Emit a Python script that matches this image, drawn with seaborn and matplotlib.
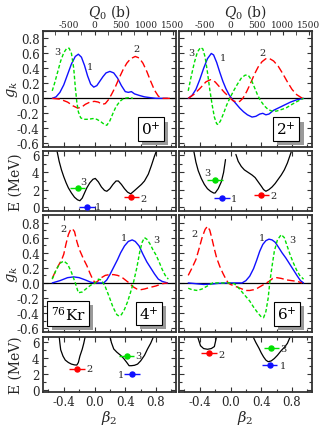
import matplotlib
matplotlib.use('Agg')
import matplotlib.pyplot as plt
import matplotlib.patheffects as pe
import seaborn as sns
from matplotlib.ticker import MultipleLocator, FormatStrFormatter, FixedLocator

# ---------------- collective wave functions g_k (beta2, g) ----------------
# 0+
b0_1 = [-0.55, -0.50, -0.45, -0.40, -0.35, -0.30, -0.25, -0.21, -0.17, -0.13, -0.09, -0.05, -0.01, 0.03, 0.07,
        0.11, 0.15, 0.20, 0.25, 0.30, 0.35, 0.40, 0.44, 0.48, 0.52, 0.58, 0.65, 0.72, 0.80, 0.95]
g0_1 = [0.0, 0.02, 0.08, 0.18, 0.32, 0.46, 0.56, 0.59, 0.55, 0.44, 0.30, 0.19, 0.15, 0.17, 0.23,
        0.29, 0.34, 0.36, 0.34, 0.27, 0.17, 0.09, 0.08, 0.09, 0.06, 0.04, 0.02, 0.01, 0.0, 0.0]
b0_2 = [-0.55, -0.45, -0.35, -0.28, -0.22, -0.17, -0.12, -0.06, 0.0, 0.05, 0.10, 0.14, 0.18, 0.22,
        0.27, 0.32, 0.37, 0.42, 0.47, 0.53, 0.58, 0.63, 0.68, 0.73, 0.78, 0.83, 0.88, 0.98]
g0_2 = [0.0, -0.01, -0.05, -0.10, -0.13, -0.12, -0.08, -0.05, -0.04, -0.05, -0.08, -0.07, -0.02, 0.05,
        0.15, 0.27, 0.38, 0.47, 0.53, 0.56, 0.54, 0.47, 0.36, 0.23, 0.11, 0.03, 0.0, 0.0]
b0_3 = [-0.55, -0.52, -0.48, -0.44, -0.40, -0.36, -0.33, -0.30, -0.27, -0.25, -0.23, -0.21, -0.18, -0.14,
        -0.08, -0.02, 0.03, 0.08, 0.13, 0.16, 0.20, 0.24, 0.28, 0.33, 0.38, 0.45, 0.50]
g0_3 = [0.10, 0.20, 0.35, 0.50, 0.61, 0.67, 0.67, 0.60, 0.40, 0.15, -0.05, -0.18, -0.26, -0.28,
        -0.28, -0.27, -0.28, -0.31, -0.35, -0.36, -0.30, -0.20, -0.11, -0.04, 0.0, 0.01, 0.0]

# 2+
b2_1 = [-0.55, -0.50, -0.45, -0.40, -0.35, -0.30, -0.25, -0.22, -0.18, -0.14, -0.10, -0.06, -0.02, 0.02, 0.07,
        0.12, 0.17, 0.22, 0.28, 0.33, 0.38, 0.42, 0.46, 0.50, 0.56, 0.62, 0.70, 0.78, 0.86, 0.95]
g2_1 = [0.0, 0.04, 0.12, 0.25, 0.40, 0.53, 0.60, 0.58, 0.48, 0.35, 0.23, 0.13, 0.05, -0.01, -0.07,
        -0.13, -0.18, -0.22, -0.25, -0.24, -0.21, -0.20, -0.22, -0.21, -0.16, -0.13, -0.09, -0.05, -0.02, 0.0]
b2_2 = [-0.55, -0.48, -0.40, -0.32, -0.26, -0.20, -0.14, -0.08, -0.02, 0.03, 0.08, 0.12, 0.16, 0.21,
        0.26, 0.31, 0.36, 0.41, 0.46, 0.51, 0.56, 0.62, 0.68, 0.74, 0.80, 0.86, 0.92, 0.96]
g2_2 = [0.0, 0.05, 0.13, 0.22, 0.25, 0.22, 0.15, 0.08, 0.02, -0.03, -0.05, -0.04, 0.0, 0.09,
        0.20, 0.32, 0.42, 0.49, 0.53, 0.53, 0.50, 0.43, 0.33, 0.22, 0.12, 0.05, 0.01, 0.0]
b2_3 = [-0.55, -0.51, -0.47, -0.43, -0.39, -0.36, -0.33, -0.30, -0.27, -0.24, -0.21, -0.18, -0.16, -0.13,
        -0.09, -0.05, -0.01, 0.04, 0.09, 0.14, 0.19, 0.23, 0.27, 0.31, 0.35, 0.39, 0.44, 0.49, 0.54,
        0.60, 0.66, 0.72, 0.80, 0.87, 0.95]
g2_3 = [0.10, 0.30, 0.48, 0.62, 0.68, 0.66, 0.55, 0.35, 0.12, -0.08, -0.25, -0.34, -0.35, -0.30,
        -0.20, -0.09, 0.0, 0.10, 0.19, 0.27, 0.31, 0.31, 0.25, 0.15, 0.05, -0.03, -0.10, -0.15, -0.17,
        -0.17, -0.15, -0.13, -0.08, -0.04, 0.0]

# 4+
b4_1 = [-0.55, -0.45, -0.35, -0.27, -0.20, -0.12, -0.05, 0.0, 0.08, 0.12, 0.16, 0.20, 0.25, 0.30,
        0.34, 0.39, 0.44, 0.49, 0.53, 0.58, 0.63, 0.68, 0.73, 0.78, 0.83, 0.88, 0.95]
g4_1 = [0.0, 0.03, 0.07, 0.08, 0.07, 0.04, 0.01, 0.0, 0.0, 0.0, 0.04, 0.11, 0.21, 0.31,
        0.40, 0.49, 0.55, 0.57, 0.55, 0.49, 0.38, 0.28, 0.20, 0.12, 0.05, 0.02, 0.0]
b4_2 = [-0.55, -0.51, -0.47, -0.43, -0.40, -0.37, -0.34, -0.31, -0.29, -0.26, -0.23, -0.20, -0.17, -0.14,
        -0.10, -0.06, -0.02, 0.01, 0.05, 0.09, 0.14, 0.19, 0.25, 0.30, 0.35, 0.40, 0.45, 0.50, 0.55,
        0.60, 0.65, 0.72, 0.80, 0.88, 0.95]
g4_2 = [0.06, 0.15, 0.23, 0.30, 0.38, 0.52, 0.64, 0.71, 0.72, 0.68, 0.55, 0.45, 0.38, 0.31,
        0.23, 0.13, 0.04, 0.0, 0.03, 0.07, 0.10, 0.11, 0.11, 0.10, 0.08, 0.04, 0.0, -0.05, -0.08,
        -0.09, -0.08, -0.06, -0.04, -0.01, 0.0]
b4_3 = [-0.55, -0.50, -0.45, -0.40, -0.35, -0.30, -0.25, -0.21, -0.16, -0.10, -0.05, 0.01, 0.05, 0.09,
        0.14, 0.19, 0.24, 0.29, 0.32, 0.35, 0.39, 0.43, 0.47, 0.51, 0.55, 0.59, 0.62, 0.65, 0.68,
        0.72, 0.76, 0.80, 0.84, 0.88, 0.92, 0.96]
g4_3 = [0.05, 0.17, 0.26, 0.29, 0.25, 0.14, 0.0, -0.13, -0.12, -0.07, -0.03, 0.0, 0.05, 0.04,
        -0.05, -0.18, -0.32, -0.42, -0.44, -0.42, -0.35, -0.25, -0.12, 0.02, 0.20, 0.42, 0.54, 0.60, 0.58,
        0.52, 0.44, 0.37, 0.28, 0.18, 0.10, 0.05]

# 6+
b6_1 = [-0.55, -0.45, -0.35, -0.25, -0.15, 0.0, 0.15, 0.20, 0.25, 0.30, 0.34, 0.38, 0.42, 0.46,
        0.50, 0.54, 0.58, 0.62, 0.67, 0.72, 0.77, 0.82, 0.87, 0.91, 0.95]
g6_1 = [0.0, -0.01, -0.02, -0.015, -0.005, 0.0, 0.0, 0.03, 0.09, 0.19, 0.30, 0.42, 0.51, 0.56,
        0.58, 0.57, 0.54, 0.48, 0.40, 0.33, 0.25, 0.17, 0.09, 0.03, 0.0]
b6_2 = [-0.55, -0.50, -0.45, -0.41, -0.37, -0.33, -0.30, -0.27, -0.24, -0.21, -0.18, -0.14, -0.10, -0.06,
        -0.03, 0.0, 0.05, 0.10, 0.15, 0.20, 0.25, 0.30, 0.35, 0.40, 0.45, 0.50, 0.55, 0.60, 0.66,
        0.73, 0.80, 0.87, 0.93]
g6_2 = [0.10, 0.20, 0.31, 0.45, 0.60, 0.71, 0.75, 0.70, 0.58, 0.45, 0.33, 0.22, 0.13, 0.05,
        0.0, -0.02, -0.04, -0.06, -0.08, -0.10, -0.10, -0.09, -0.07, -0.04, -0.01, 0.02, 0.06, 0.07, 0.06,
        0.04, 0.03, 0.02, 0.0]
b6_3 = [-0.55, -0.50, -0.43, -0.37, -0.30, -0.23, -0.10, 0.0, 0.05, 0.10, 0.15, 0.20, 0.25, 0.30,
        0.35, 0.40, 0.43, 0.46, 0.49, 0.51, 0.54, 0.57, 0.61, 0.66, 0.70, 0.74, 0.78, 0.82, 0.86,
        0.90, 0.95]
g6_3 = [-0.07, -0.09, -0.10, -0.08, -0.04, 0.0, 0.0, 0.0, -0.01, -0.06, -0.12, -0.18, -0.24, -0.32,
        -0.39, -0.45, -0.46, -0.38, -0.20, 0.0, 0.22, 0.42, 0.57, 0.64, 0.60, 0.48, 0.36, 0.26, 0.17,
        0.10, 0.05]

# ---------------- potential energy curves E(beta2) ----------------
be_02 = [-0.49, -0.46, -0.43, -0.40, -0.37, -0.34, -0.30, -0.26, -0.22, -0.19, -0.16, -0.13, -0.10, -0.06,
         -0.02, 0.01, 0.05, 0.09, 0.13, 0.16, 0.20, 0.24, 0.28, 0.31, 0.35, 0.39, 0.43, 0.47, 0.51,
         0.56, 0.61, 0.65, 0.70, 0.74, 0.78, 0.81]
ee_02 = [6.6, 5.3, 4.3, 3.5, 2.8, 2.2, 1.6, 1.1, 0.8, 0.7, 1.0, 1.6, 2.2, 2.8,
         3.2, 3.3, 2.9, 2.3, 1.9, 1.8, 2.1, 2.6, 3.0, 3.0, 2.6, 2.1, 1.7, 1.5, 1.8,
         2.2, 2.6, 3.0, 3.8, 4.8, 5.9, 6.6]
be_2a = [-0.48, -0.45, -0.42, -0.38, -0.34, -0.30, -0.26, -0.22, -0.20, -0.16, -0.12, -0.09, -0.065]
ee_2a = [6.6, 5.2, 4.2, 3.3, 2.6, 2.1, 1.8, 1.6, 1.6, 2.1, 2.9, 4.0, 5.5]
be_2b = [0.07, 0.10, 0.14, 0.18, 0.23, 0.28, 0.32, 0.36, 0.40, 0.43, 0.46, 0.50, 0.54, 0.58, 0.62,
         0.66, 0.70, 0.74, 0.79]
ee_2b = [6.1, 5.3, 4.7, 4.3, 4.0, 3.7, 3.4, 2.9, 2.4, 2.0, 1.8, 2.0, 2.3, 2.7, 3.2,
         3.7, 4.3, 5.1, 6.4]
be_4a = [-0.46, -0.45, -0.44, -0.41, -0.38, -0.34, -0.30, -0.26, -0.23, -0.21, -0.19, -0.16, -0.14, -0.12]
ee_4a = [6.7, 5.8, 5.0, 4.2, 3.7, 3.4, 3.2, 3.1, 3.08, 3.4, 4.2, 5.06, 5.8, 6.7]
be_4b = [0.20, 0.22, 0.25, 0.29, 0.34, 0.38, 0.42, 0.45, 0.48, 0.52, 0.56, 0.60, 0.65, 0.69, 0.73, 0.77]
ee_4b = [6.7, 5.9, 5.1, 4.7, 4.3, 3.9, 3.4, 3.0, 3.0, 3.05, 3.2, 3.6, 4.3, 5.1, 5.8, 6.7]
be_6a = [-0.43, -0.39, -0.35, -0.30, -0.25, -0.21, -0.18]
ee_6a = [6.7, 5.5, 5.15, 5.06, 5.15, 5.4, 6.7]
be_6b = [0.29, 0.33, 0.37, 0.40, 0.43, 0.46, 0.49, 0.53, 0.57, 0.61, 0.66, 0.70, 0.74, 0.78]
ee_6b = [6.7, 5.9, 5.2, 4.6, 4.1, 3.7, 3.5, 3.6, 3.9, 4.3, 4.9, 5.3, 5.8, 6.7]

# states 1, 2, 3: mean deformation and energy
pts_0_b = [-0.10, 0.48, -0.22]
pts_0_e = [0.0, 1.1, 2.2]
pts_2_b = [-0.11, 0.40, -0.20]
pts_2_e = [1.07, 1.4, 3.1]
pts_4_b = [0.49, -0.23, 0.42]
pts_4_e = [2.0, 2.6, 4.27]
pts_6_b = [0.51, -0.28, 0.53]
pts_6_e = [3.1, 4.55, 5.2]
bar_half = 0.1

q_major = [-500, 0, 500, 1000, 1500]
q_minor = [-750, -250, 250, 750, 1250]

state_names = ['1', '2', '3']
colors = ['#1010ff', '#ff0000', '#00e000']
styles = ['-', (0, (5.5, 2.5)), (0, (2.6, 1.6))]

sns.set_style('ticks')
plt.rcParams['font.family'] = ['DejaVu Serif']
plt.rcParams['mathtext.fontset'] = 'dejavuserif'
plt.rcParams['axes.unicode_minus'] = False

fig = plt.figure(figsize=(3.24, 4.31), dpi=100)
W, H = 324.0, 431.0
lefts = [43, 179]
width = 133
rows = [(148, 116), (212, 60), (333, 117), (393, 55)]
axs = [[fig.add_axes([l / W, 1 - b / H, width / W, h / H]) for l in lefts] for (b, h) in rows]

to_q = lambda b: b * 1470.0
to_b = lambda q: q / 1470.0


def frame(ax, kind, r, c):
    ax.set_xlim(-0.67, 1.06)
    ax.xaxis.set_major_locator(MultipleLocator(0.4))
    ax.xaxis.set_minor_locator(MultipleLocator(0.2))
    ax.xaxis.set_major_formatter(FormatStrFormatter('%.1f'))
    if kind == 'g':
        ax.set_ylim(-0.65, 0.9)
        ax.yaxis.set_major_locator(MultipleLocator(0.2))
        ax.yaxis.set_minor_locator(MultipleLocator(0.1))
        ax.yaxis.set_major_formatter(FormatStrFormatter('%.1f'))
        ax.axhline(0, color='black', lw=0.9, zorder=1)
    else:
        ax.set_ylim((-0.5, 6.5) if r == 1 else (-0.3, 6.6))
        ax.yaxis.set_major_locator(MultipleLocator(2))
        ax.yaxis.set_minor_locator(MultipleLocator(1))
    ax.tick_params(which='both', direction='in', left=True, right=True, bottom=True, top=(r != 0),
                   labelsize=8.5, color='#333', pad=2.5)
    ax.tick_params(which='major', length=3.5, width=0.8)
    ax.tick_params(which='minor', length=2.2, width=0.8)
    ax.tick_params(axis='y', labelleft=(c == 0))
    ax.tick_params(axis='x', labelbottom=(r == 3))
    for s in ax.spines.values():
        s.set_linewidth(1.3)
        s.set_color('#333')
    ax.set_xlabel('')
    ax.set_ylabel('')
    if r == 0:
        sec = ax.secondary_xaxis('top', functions=(to_q, to_b))
        sec.xaxis.set_major_locator(FixedLocator(q_major))
        sec.xaxis.set_minor_locator(FixedLocator(q_minor))
        sec.tick_params(which='both', direction='in', labelsize=6.5, pad=1.5, color='#333')
        sec.tick_params(which='major', length=3.0)
        sec.tick_params(which='minor', length=3.0)
        sec.set_xlabel('$Q_0$ (b)', fontsize=10, labelpad=3)
    if r == 3:
        ax.set_xlabel(r'$\beta_2$', fontsize=10.5, labelpad=0)


shadow = [pe.SimplePatchShadow(offset=(3, -3), shadow_rgbFace='#9a9a9a', alpha=1.0), pe.Normal()]


def boxed(ax, x, y, s, fs=11):
    ax.text(x, y, s, transform=ax.transAxes, ha='center', va='center', fontsize=fs, color='black',
            bbox=dict(boxstyle='square,pad=0.22', fc='white', ec='black', lw=0.8, path_effects=shadow),
            zorder=7)


def wave(ax, curves):
    for (b, g), col, ls in zip(curves, colors, styles):
        sns.lineplot(x=b, y=g, ax=ax, color=col, linestyle=ls, linewidth=1.0,
                     sort=False, estimator=None, zorder=3)


def energy(ax, pieces, pb, pe_, offsets):
    for b, e in pieces:
        sns.lineplot(x=b, y=e, ax=ax, color='black', linewidth=0.9, sort=False, estimator=None, zorder=2)
    for bb, ee, col, name, (dx, dy) in zip(pb, pe_, colors, state_names, offsets):
        ax.errorbar([bb], [ee], xerr=bar_half, fmt='o', color=col, ms=3.6, elinewidth=1.0,
                    capsize=0, zorder=4)
        ax.text(bb + dx, ee + dy, name, fontsize=7, ha='center', va='center', zorder=5)


def numbers(ax, spots):
    for name, (x, y) in zip(state_names, spots):
        ax.text(x, y, name, fontsize=7, ha='center', va='center')


# row 1
wave(axs[0][0], [(b0_1, g0_1), (b0_2, g0_2), (b0_3, g0_3)])
numbers(axs[0][0], [(-0.06, 0.42), (0.54, 0.66), (-0.48, 0.62)])
wave(axs[0][1], [(b2_1, g2_1), (b2_2, g2_2), (b2_3, g2_3)])
numbers(axs[0][1], [(-0.10, 0.55), (0.41, 0.61), (-0.51, 0.61)])
# row 2
energy(axs[1][0], [(be_02, ee_02)], pts_0_b, pts_0_e, [(0.15, 0.0), (0.16, -0.1), (0.08, 0.7)])
energy(axs[1][1], [(be_2a, ee_2a), (be_2b, ee_2b)], pts_2_b, pts_2_e, [(0.16, -0.1), (0.16, -0.1), (-0.10, 0.85)])
# row 3
wave(axs[2][0], [(b4_1, g4_1), (b4_2, g4_2), (b4_3, g4_3)])
numbers(axs[2][0], [(0.38, 0.60), (-0.40, 0.72), (0.80, 0.57)])
wave(axs[2][1], [(b6_1, g6_1), (b6_2, g6_2), (b6_3, g6_3)])
numbers(axs[2][1], [(0.41, 0.60), (-0.47, 0.66), (0.80, 0.57)])
# row 4
energy(axs[3][0], [(be_4a, ee_4a), (be_4b, ee_4b)], pts_4_b, pts_4_e, [(-0.15, -0.1), (0.16, 0.0), (0.15, 0.0)])
energy(axs[3][1], [(be_6a, ee_6a), (be_6b, ee_6b)], pts_6_b, pts_6_e, [(0.17, -0.1), (0.16, -0.1), (0.16, 0.0)])

kinds = ['g', 'E', 'g', 'E']
for r in range(4):
    for c in range(2):
        frame(axs[r][c], kinds[r], r, c)

boxed(axs[0][0], 0.81, 0.155, r'$0^{+}$')
boxed(axs[0][1], 0.806, 0.155, r'$2^{+}$')
boxed(axs[2][0], 0.795, 0.16, r'$4^{+}$')
boxed(axs[2][1], 0.813, 0.155, r'$6^{+}$')
boxed(axs[2][0], 0.19, 0.16, r'$^{76}$Kr')

fig.text(12 / W, 1 - 90 / H, '$g_k$', rotation=90, fontsize=10.5, ha='center', va='center')
fig.text(12 / W, 1 - 275 / H, '$g_k$', rotation=90, fontsize=10.5, ha='center', va='center')
fig.text(16 / W, 1 - 182 / H, 'E (MeV)', rotation=90, fontsize=10, ha='center', va='center')
fig.text(16 / W, 1 - 365 / H, 'E (MeV)', rotation=90, fontsize=10, ha='center', va='center')

fig.savefig('out.png', dpi=100)
